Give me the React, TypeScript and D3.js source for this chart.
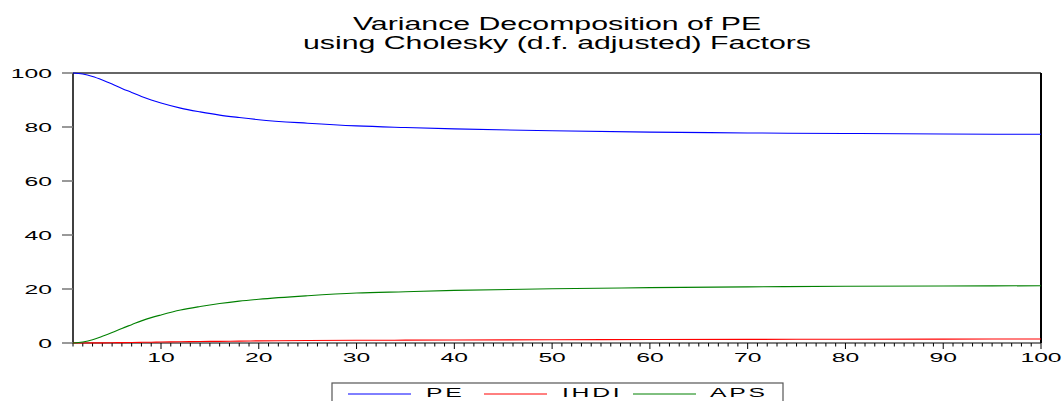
import React from "react";
import * as d3 from "d3";

const periods = [1, 2, 3, 4, 5, 6, 7, 8, 9, 10, 12, 14, 16, 18, 20, 25, 30, 35, 40, 50, 60, 70, 80, 90, 100];
const pe = [100, 99.6, 98.7, 97.4, 95.9, 94.3, 92.8, 91.3, 90.0, 88.9, 87.0, 85.6, 84.4, 83.5, 82.7, 81.4, 80.4, 79.8, 79.3, 78.6, 78.1, 77.8, 77.6, 77.4, 77.3];
const ihdi = [0, 0.01, 0.03, 0.06, 0.1, 0.15, 0.2, 0.25, 0.3, 0.35, 0.45, 0.55, 0.62, 0.7, 0.8, 0.9, 1.0, 1.05, 1.1, 1.2, 1.3, 1.35, 1.4, 1.45, 1.5];
const aps = [0, 0.4, 1.2, 2.5, 3.9, 5.4, 6.8, 8.2, 9.4, 10.4, 12.2, 13.5, 14.6, 15.5, 16.2, 17.5, 18.5, 19.0, 19.5, 20.1, 20.5, 20.8, 21.0, 21.1, 21.2];

const seriesNames = ["PE", "IHDI", "APS"];
const seriesColors = ["#0000ff", "#ff0000", "#008000"];
const yTicks = [0, 20, 40, 60, 80, 100];
const xTicks = [10, 20, 30, 40, 50, 60, 70, 80, 90, 100];
const titleLines = ["Variance Decomposition of PE", "using Cholesky (d.f. adjusted) Factors"];

const W = 1063;
const H = 401;
const margin = { top: 73, right: 22, bottom: 58, left: 73 };
const FONT = "'Liberation Sans', Arial, sans-serif";

// the source image is stretched sideways, so text is widened with a scale
function WideText({ x, y, size, sx, anchor, spacing, children }: any) {
  return (
    <text
      transform={`translate(${x},${y}) scale(${sx},1)`}
      fontFamily={FONT}
      fontSize={size}
      textAnchor={anchor || "start"}
      letterSpacing={spacing || 0}
      fill="#000"
    >
      {children}
    </text>
  );
}

export default function App() {
  const innerW = W - margin.left - margin.right;
  const innerH = H - margin.top - margin.bottom;

  const x = d3.scaleLinear().domain([1, 100]).range([margin.left, margin.left + innerW]);
  const y = d3.scaleLinear().domain([0, 100]).range([margin.top + innerH, margin.top]);

  const line = d3
    .line<number>()
    .x((_, i) => x(periods[i]))
    .y((d) => y(d))
    .curve(d3.curveMonotoneX);

  const series = [pe, ihdi, aps];
  const minorTicks = d3.range(1, 101);
  const bottom = margin.top + innerH;
  const right = margin.left + innerW;

  // legend layout
  const legend = { x: 332, y: 383, w: 451 };
  const legendItems = [
    { lx: 348, tx: 426 },
    { lx: 484, tx: 562 },
    { lx: 633, tx: 710 },
  ];

  return (
    <svg
      width={W}
      height={H}
      style={{ position: "absolute", left: 0, top: 0, background: "#fff" }}
    >
      {/* title */}
      {titleLines.map((t, i) => (
        <WideText key={t} x={557} y={30 + i * 19} size={17.5} sx={1.73} anchor="middle">
          {t}
        </WideText>
      ))}

      {/* frame */}
      <line x1={margin.left} x2={right} y1={margin.top} y2={margin.top} stroke="#666" strokeWidth={2} />
      <line x1={right} x2={right} y1={margin.top} y2={bottom} stroke="#000" strokeWidth={2} />
      <line x1={margin.left} x2={margin.left} y1={margin.top} y2={bottom} stroke="#000" strokeWidth={1.5} />
      <line x1={margin.left} x2={right} y1={bottom} y2={bottom} stroke="#000" strokeWidth={1} />

      {/* y axis */}
      {yTicks.map((t) => (
        <g key={t}>
          <line x1={margin.left - 11} x2={margin.left} y1={y(t)} y2={y(t)} stroke="#777" strokeWidth={1.5} />
          <WideText x={52} y={y(t) + 5} size={13.5} sx={1.83} anchor="end">
            {t}
          </WideText>
        </g>
      ))}

      {/* x axis */}
      {minorTicks.map((t) => (
        <line
          key={t}
          x1={x(t)}
          x2={x(t)}
          y1={bottom}
          y2={bottom + (t % 10 === 0 ? 6 : 3.5)}
          stroke="#000"
          strokeWidth={1}
        />
      ))}
      {xTicks.map((t) => (
        <WideText key={t} x={x(t)} y={362} size={13.5} sx={1.83} anchor="middle">
          {t}
        </WideText>
      ))}

      {/* series */}
      {series.map((s, i) => (
        <path key={seriesNames[i]} d={line(s) || ""} fill="none" stroke={seriesColors[i]} strokeWidth={1.1} />
      ))}

      {/* legend */}
      <rect x={legend.x} y={legend.y} width={legend.w} height={40} fill="#fff" stroke="#555" strokeWidth={1.2} />
      {legendItems.map((it, i) => (
        <g key={seriesNames[i]}>
          <line x1={it.lx} x2={it.lx + 63} y1={394} y2={394} stroke={seriesColors[i]} strokeWidth={1} />
          <WideText x={it.tx} y={397} size={13.5} sx={1.83} spacing={1.5}>
            {seriesNames[i]}
          </WideText>
        </g>
      ))}
    </svg>
  );
}
